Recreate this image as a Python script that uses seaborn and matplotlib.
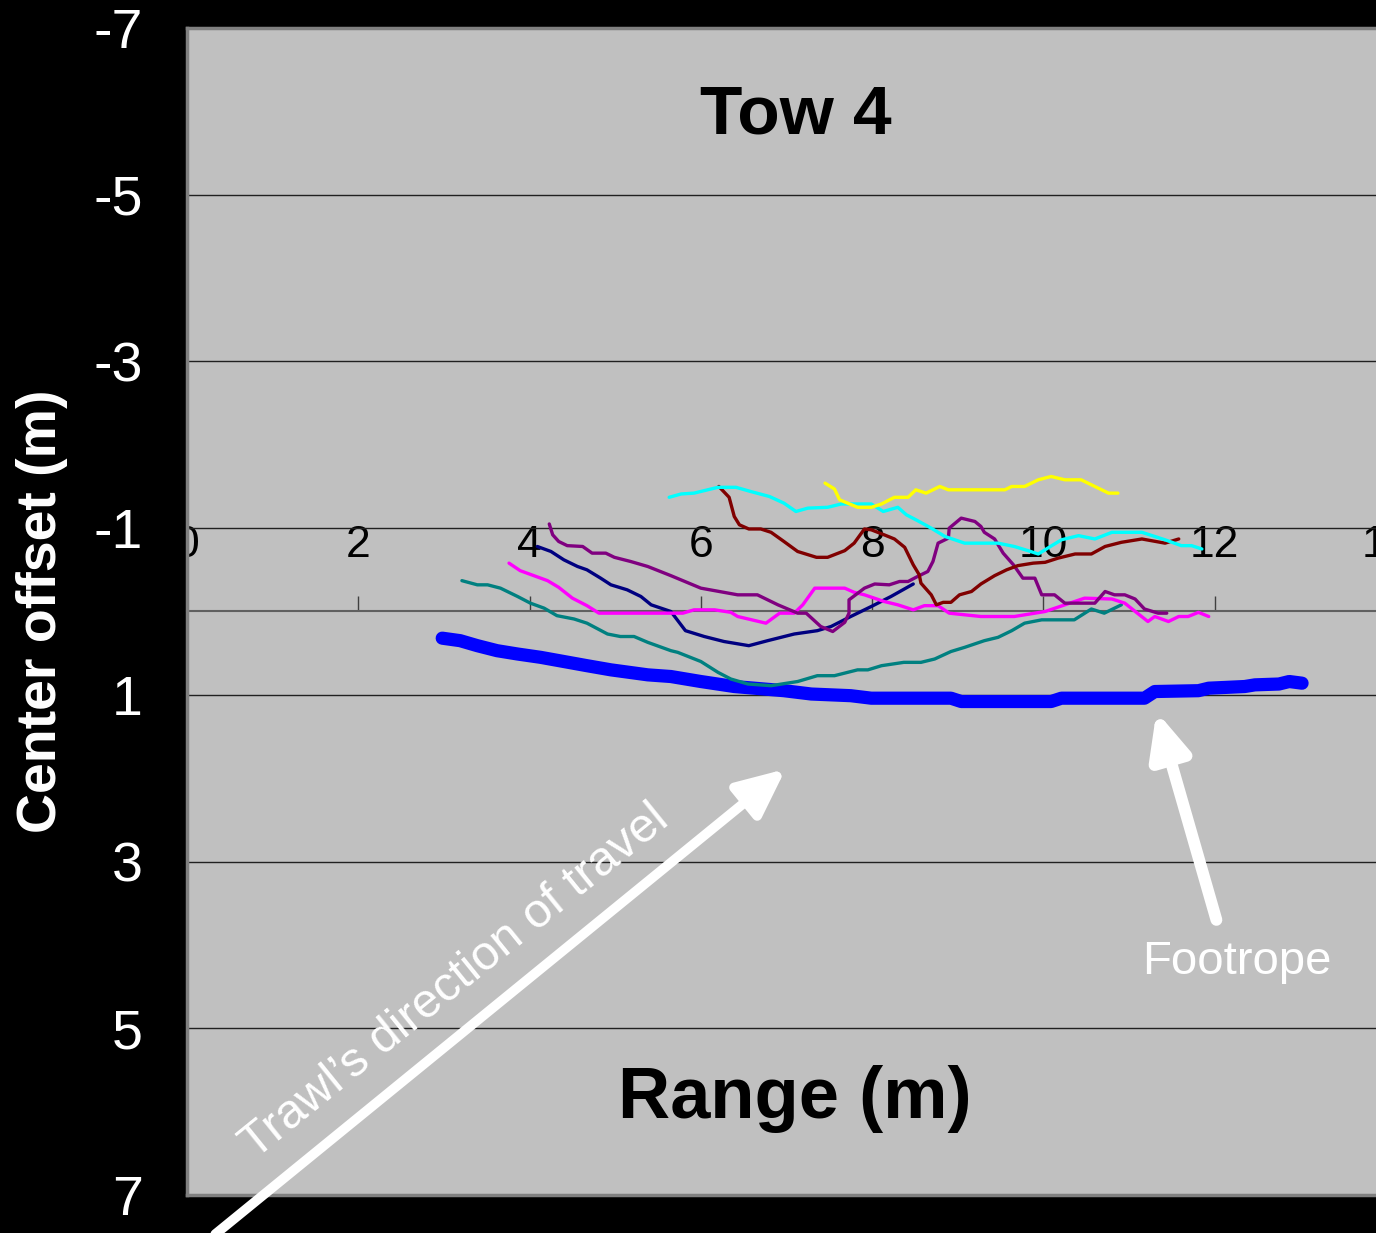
import numpy as np
import pandas as pd
import matplotlib
matplotlib.use('Agg')
import matplotlib.pyplot as plt
import seaborn as sns

# Footrope (trazo grueso azul)
foot_x = [2.98, 3.19, 3.39, 3.62, 3.86, 4.13, 4.40, 4.67, 4.95, 5.38, 5.65, 6.00, 6.39, 6.74,
          6.97, 7.29, 7.75, 7.99, 8.92, 9.04, 10.09, 10.21, 11.18, 11.30, 11.81, 11.93, 12.35,
          12.47, 12.75, 12.87, 13.02]
foot_y = [0.32, 0.35, 0.41, 0.47, 0.51, 0.55, 0.60, 0.65, 0.70, 0.76, 0.78, 0.84, 0.90, 0.93,
          0.95, 0.99, 1.01, 1.04, 1.04, 1.08, 1.08, 1.04, 1.04, 0.96, 0.95, 0.92, 0.90,
          0.88, 0.87, 0.84, 0.86]

teal_x = [3.21, 3.39, 3.51, 3.66, 3.86, 4.01, 4.17, 4.32, 4.52, 4.67, 4.91, 5.06, 5.22, 5.38,
          5.65, 5.73, 6.00, 6.20, 6.35, 6.55, 6.82, 7.13, 7.36, 7.56, 7.83, 7.95, 8.11, 8.37,
          8.57, 8.73, 8.92, 9.08, 9.31, 9.47, 9.63, 9.78, 9.98, 10.36, 10.56, 10.71, 10.91]
teal_y = [-0.37, -0.32, -0.32, -0.28, -0.18, -0.10, -0.04, 0.05, 0.09, 0.14, 0.27, 0.30, 0.30, 0.37,
          0.47, 0.49, 0.60, 0.73, 0.81, 0.87, 0.89, 0.84, 0.77, 0.77, 0.70, 0.70, 0.65, 0.61,
          0.61, 0.57, 0.48, 0.43, 0.35, 0.31, 0.23, 0.14, 0.10, 0.10, -0.03, 0.02, -0.08]

navy_x = [4.09, 4.25, 4.40, 4.56, 4.67, 4.83, 4.95, 5.14, 5.30, 5.42, 5.65, 5.82, 6.04, 6.27,
          6.56, 6.78, 7.09, 7.36, 7.52, 7.75, 7.99, 8.22, 8.48]
navy_y = [-0.78, -0.72, -0.62, -0.54, -0.50, -0.40, -0.32, -0.26, -0.18, -0.08, 0.00, 0.23, 0.30, 0.36,
          0.41, 0.35, 0.27, 0.23, 0.18, 0.06, -0.06, -0.18, -0.33]

magenta_x = [3.76, 3.89, 4.05, 4.21, 4.34, 4.50, 4.67, 4.81, 5.79, 5.92, 6.16, 6.35, 6.43, 6.76,
             6.92, 7.09, 7.19, 7.33, 7.68, 7.79, 7.91, 8.14, 8.30, 8.48, 8.61, 8.77, 8.90, 9.27,
             9.66, 10.02, 10.48, 10.80, 10.95, 11.22, 11.30, 11.46, 11.58, 11.69, 11.81, 11.93]
magenta_y = [-0.58, -0.49, -0.43, -0.37, -0.29, -0.16, -0.07, 0.02, 0.02, -0.02, -0.02, 0.01, 0.06, 0.14,
             0.02, 0.02, -0.08, -0.28, -0.28, -0.23, -0.20, -0.12, -0.08, -0.02, -0.07, -0.07, 0.02, 0.06,
             0.06, 0.00, -0.16, -0.15, -0.10, 0.12, 0.06, 0.12, 0.06, 0.06, 0.01, 0.06]

purple_x = [4.23, 4.27, 4.34, 4.44, 4.62, 4.73, 4.89, 4.99, 5.18, 5.38, 5.65, 6.00, 6.43, 6.66,
            6.90, 7.13, 7.23, 7.40, 7.54, 7.68, 7.73, 7.73, 7.91, 8.03, 8.20, 8.32, 8.42, 8.53,
            8.65, 8.71, 8.77, 8.89, 8.90, 9.04, 9.20, 9.27, 9.31, 9.43, 9.53, 9.65, 9.76, 9.90,
            9.98, 10.13, 10.25, 10.60, 10.72, 10.83, 10.95, 11.07, 11.18, 11.34, 11.44]
purple_y = [-1.05, -0.92, -0.84, -0.79, -0.78, -0.70, -0.70, -0.65, -0.60, -0.54, -0.43, -0.28, -0.20, -0.20,
            -0.08, 0.02, 0.02, 0.18, 0.24, 0.13, 0.02, -0.14, -0.28, -0.33, -0.32, -0.36, -0.36, -0.42,
            -0.48, -0.60, -0.82, -0.88, -1.00, -1.12, -1.08, -1.02, -0.95, -0.87, -0.70, -0.56, -0.40, -0.40,
            -0.20, -0.20, -0.10, -0.10, -0.24, -0.20, -0.20, -0.15, -0.03, 0.02, 0.02]

maroon_x = [6.21, 6.33, 6.39, 6.45, 6.56, 6.70, 6.82, 6.97, 7.13, 7.35, 7.48, 7.68, 7.79, 7.91,
            7.99, 8.14, 8.26, 8.38, 8.48, 8.55, 8.57, 8.69, 8.75, 8.83, 8.92, 9.02, 9.16, 9.27,
            9.43, 9.57, 9.70, 9.88, 10.02, 10.17, 10.37, 10.56, 10.72, 10.91, 11.15, 11.42, 11.58]
maroon_y = [-1.50, -1.37, -1.14, -1.04, -0.99, -0.99, -0.95, -0.84, -0.72, -0.65, -0.65, -0.73, -0.82, -0.99,
            -0.98, -0.92, -0.87, -0.77, -0.56, -0.44, -0.34, -0.20, -0.08, -0.11, -0.11, -0.20, -0.24, -0.33,
            -0.43, -0.50, -0.55, -0.58, -0.59, -0.64, -0.69, -0.69, -0.78, -0.83, -0.87, -0.82, -0.87]

cyan_x = [5.63, 5.77, 5.92, 6.04, 6.20, 6.41, 6.58, 6.80, 6.97, 7.11, 7.25, 7.48, 7.64, 7.99,
          8.13, 8.30, 8.40, 8.53, 8.69, 8.85, 9.08, 9.47, 9.66, 9.82, 9.94, 10.05, 10.21, 10.41,
          10.60, 10.80, 11.15, 11.42, 11.61, 11.73, 11.85]
cyan_y = [-1.37, -1.41, -1.42, -1.45, -1.49, -1.49, -1.44, -1.38, -1.30, -1.20, -1.24, -1.25, -1.29, -1.29,
          -1.20, -1.25, -1.16, -1.09, -1.00, -0.90, -0.82, -0.82, -0.78, -0.73, -0.69, -0.76, -0.86, -0.91,
          -0.87, -0.95, -0.95, -0.86, -0.79, -0.79, -0.75]

yellow_x = [7.45, 7.56, 7.62, 7.83, 7.99, 8.11, 8.26, 8.42, 8.51, 8.63, 8.79, 8.89, 9.55, 9.63,
            9.78, 9.94, 10.09, 10.25, 10.44, 10.60, 10.76, 10.87]
yellow_y = [-1.54, -1.47, -1.34, -1.25, -1.25, -1.29, -1.37, -1.37, -1.46, -1.42, -1.50, -1.46, -1.46, -1.50,
            -1.50, -1.58, -1.62, -1.58, -1.58, -1.50, -1.42, -1.42]

series = {'teal': (teal_x, teal_y), 'navy': (navy_x, navy_y), 'magenta': (magenta_x, magenta_y),
          'purple': (purple_x, purple_y), 'maroon': (maroon_x, maroon_y), 'cyan': (cyan_x, cyan_y),
          'yellow': (yellow_x, yellow_y)}
colores = {'teal': '#008080', 'navy': '#000080', 'magenta': '#FF00FF', 'purple': '#800080',
           'maroon': '#800000', 'cyan': '#00FFFF', 'yellow': '#FFFF00'}

rows = []
for nombre, (xs, ys) in series.items():
    for i, (xv, yv) in enumerate(zip(xs, ys)):
        rows.append({'serie': nombre, 'orden': i, 'range': xv, 'offset': yv})
df = pd.DataFrame(rows)
df_foot = pd.DataFrame({'range': foot_x, 'offset': foot_y})

sns.set_theme(style='white')
plt.rcParams['font.family'] = ['Liberation Sans', 'DejaVu Sans']
plt.rcParams['axes.unicode_minus'] = False

fig = plt.figure(figsize=(13.76, 12.33), dpi=100)
fig.patch.set_facecolor('black')
ax = fig.add_axes([187 / 1376, 38 / 1233, 1199 / 1376, 1167 / 1233])
ax.set_facecolor('#C0C0C0')

# Lineas
sns.lineplot(data=df_foot, x='range', y='offset', color='#0000FF', linewidth=9.5,
             sort=False, estimator=None, ax=ax, solid_capstyle='round', zorder=3)
sns.lineplot(data=df, x='range', y='offset', hue='serie', palette=colores, linewidth=2.4,
             sort=False, estimator=None, legend=False, ax=ax, zorder=4)

ax.set_xlim(0, 14)
ax.set_ylim(7, -7)
ax.set_yticks([-7, -5, -3, -1, 1, 3, 5, 7])
ax.tick_params(axis='y', length=0, labelsize=40, labelcolor='white', pad=32)
ax.tick_params(axis='x', bottom=False, labelbottom=False)
ax.grid(axis='y', color='#202020', linewidth=1.0)
ax.grid(axis='x', visible=False)
for s in ['left', 'top', 'bottom']:
    ax.spines[s].set_color('#808080')
    ax.spines[s].set_linewidth(2.5)
ax.spines['right'].set_visible(False)

# Eje x cruzando en y=0
sec = ax.secondary_xaxis(0.5)
sec.set_xticks(range(0, 15, 2))
sec.tick_params(direction='out', length=11, width=1, color='#404040', labelsize=32,
                labelcolor='black', pad=22)
for s in sec.spines.values():
    s.set_color('#606060')
    s.set_linewidth(1.5)
for lbl in sec.get_xticklabels():
    lbl.set_clip_box(ax.bbox)
    lbl.set_clip_on(True)

ax.set_ylabel('Center offset (m)', color='white', fontsize=40, fontweight='bold')
ax.yaxis.set_label_coords(-0.121, 0.5)
ax.yaxis.label.set_va('center')
ax.set_xlabel('Range (m)', color='black', fontsize=52, fontweight='bold')
ax.xaxis.set_label_coords(0.507, 0.082)
ax.xaxis.label.set_va('center')

ax.text(0.508, 0.925, 'Tow 4', transform=ax.transAxes, ha='center', va='center',
        fontsize=50, fontweight='bold', color='black')

# Flechas y anotaciones
ax.annotate('', xy=(6.99, 1.89), xytext=(0.33, 7.47),
            arrowprops=dict(arrowstyle='-|>,head_length=2.4,head_width=1.1', lw=7,
                            color='white', shrinkA=0, shrinkB=0),
            annotation_clip=False)
ax.text(3.13, 4.45, 'Trawl\u2019s direction of travel', rotation=39, rotation_mode='anchor',
        ha='center', va='center', fontsize=35, color='white')

ax.annotate('', xy=(11.32, 1.20), xytext=(12.02, 3.70),
            arrowprops=dict(arrowstyle='-|>,head_length=2.2,head_width=1.0', lw=8.5,
                            color='white', shrinkA=0, shrinkB=0),
            annotation_clip=False)
ax.text(12.26, 4.2, 'Footrope', ha='center', va='center', fontsize=34, color='white')

fig.savefig('out.png', dpi=100, facecolor='black')
